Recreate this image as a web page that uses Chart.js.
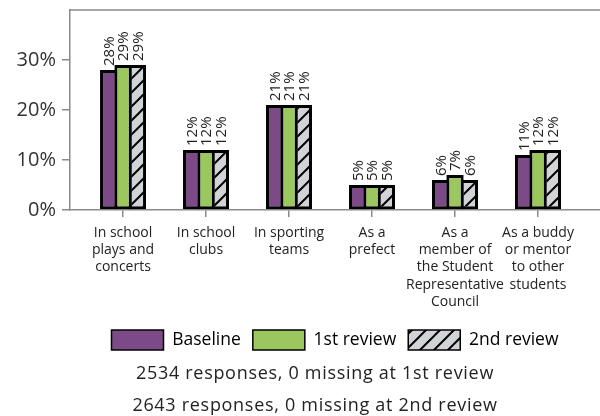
<!DOCTYPE html>
<html>
<head>
<meta charset="utf-8">
<script src="https://cdn.jsdelivr.net/npm/chart.js@4.4.1/dist/chart.umd.min.js"></script>
<style>
  html, body { margin: 0; padding: 0; background: #fff; }
  #wrap { position: relative; width: 600px; height: 416px; }
  #notes { position: absolute; left: 30px; width: 570px; top: 356px; text-align: center;
           font-family: 'Open Sans', sans-serif; font-size: 18px; letter-spacing: 0.7px;
           line-height: 32px; color: #222; }
</style>
</head>
<body>
<div id="wrap">
  <canvas id="myChart" width="600" height="416"></canvas>
  <div id="notes"></div>
</div>
<script>
// chart data
const categories = [
  ['In school', 'plays and', 'concerts'],
  ['In school', 'clubs'],
  ['In sporting', 'teams'],
  ['As a', 'prefect'],
  ['As a', 'member of', 'the Student', 'Representative', 'Council'],
  ['As a buddy', 'or mentor', 'to other', 'students']
];
const seriesNames = ['Baseline', '1st review', '2nd review'];
const baseline = [28, 12, 21, 5, 6, 11];
const review1 = [29, 12, 21, 5, 7, 12];
const review2 = [29, 12, 21, 5, 6, 12];
const yTicks = [0, 10, 20, 30];
const notes = ['2534 responses, 0 missing at 1st review', '2643 responses, 0 missing at 2nd review'];

document.getElementById('notes').innerHTML = notes.join('<br>');

Chart.defaults.font.family = "'Open Sans', sans-serif";
Chart.defaults.color = '#222';

// hatched fill for the 2nd review
function makeHatch() {
  var c = document.createElement('canvas');
  c.width = 14; c.height = 14;
  var g = c.getContext('2d');
  g.fillStyle = '#d2d3d6';
  g.fillRect(0, 0, 14, 14);
  g.strokeStyle = '#000';
  g.lineWidth = 2;
  g.beginPath();
  g.moveTo(-2, 16); g.lineTo(16, -2);
  g.moveTo(-9, 9); g.lineTo(9, -9);
  g.moveTo(5, 23); g.lineTo(23, 5);
  g.stroke();
  return g.createPattern(c, 'repeat');
}
var hatch = makeHatch();

function toPoints(arr) {
  return arr.map(function(v, i) { return {x: i, y: v}; });
}

// labels drawn vertically above each bar
const barLabels = {
  id: 'barLabels',
  afterDatasetsDraw(chart) {
    var ctx = chart.ctx;
    ctx.save();
    ctx.font = "15px 'Open Sans', sans-serif";
    ctx.fillStyle = '#222';
    ctx.textAlign = 'left';
    ctx.textBaseline = 'middle';
    chart.data.datasets.forEach(function(ds, d) {
      chart.getDatasetMeta(d).data.forEach(function(bar, i) {
        ctx.save();
        ctx.translate(bar.x, bar.y - 4);
        ctx.rotate(-Math.PI / 2);
        ctx.fillText(ds.data[i].y + '%', 0, 1);
        ctx.restore();
      });
    });
    ctx.restore();
  }
};

// top frame line
const frame = {
  id: 'frame',
  beforeDatasetsDraw(chart) {
    var a = chart.chartArea, ctx = chart.ctx;
    ctx.save();
    ctx.strokeStyle = '#8a8a8a';
    ctx.lineWidth = 1.5;
    ctx.beginPath();
    ctx.moveTo(a.left, a.top);
    ctx.lineTo(a.right, a.top);
    ctx.stroke();
    ctx.restore();
  }
};

var common = {
  borderColor: '#000',
  borderWidth: 3,
  borderSkipped: false,
  categoryPercentage: 0.518,
  barPercentage: 1.21
};

new Chart(document.getElementById('myChart'), {
  type: 'bar',
  data: {
    datasets: [
      Object.assign({label: seriesNames[0], data: toPoints(baseline), backgroundColor: '#7b4a87'}, common),
      Object.assign({label: seriesNames[1], data: toPoints(review1), backgroundColor: '#9cc75f'}, common),
      Object.assign({label: seriesNames[2], data: toPoints(review2), backgroundColor: hatch}, common)
    ]
  },
  options: {
    responsive: false,
    animation: false,
    layout: { padding: { top: 10, bottom: 56, left: 0, right: 0 } },
    scales: {
      x: {
        type: 'linear',
        offset: false,
        min: -0.639,
        max: 5.747,
        afterBuildTicks: function(s) { s.ticks = categories.map(function(c, i) { return {value: i}; }); },
        afterFit: function(s) { s.height = 108; s.paddingLeft = 0; s.paddingRight = 0; },
        grid: { offset: false, drawOnChartArea: false, drawTicks: true, tickLength: 7, color: '#8a8a8a', lineWidth: 1.5 },
        border: { color: '#8a8a8a', width: 1.5 },
        ticks: {
          maxRotation: 0,
          autoSkip: false,
          padding: 7,
          color: '#222',
          font: { size: 14, lineHeight: 1.24 },
          callback: function(v) { return categories[Math.round(v)] || ''; }
        }
      },
      y: {
        min: 0,
        max: 40,
        afterBuildTicks: function(s) { s.ticks = yTicks.map(function(v) { return {value: v}; }); },
        afterFit: function(s) { s.width = 70; s.paddingTop = 0; s.paddingBottom = 0; },
        grid: { drawOnChartArea: false, drawTicks: true, tickLength: 8, color: '#8a8a8a', lineWidth: 1.5 },
        border: { color: '#8a8a8a', width: 1.5 },
        ticks: {
          padding: 6,
          color: '#333',
          font: { size: 20 },
          callback: function(v) { return v + '%'; }
        }
      }
    },
    plugins: {
      legend: {
        position: 'bottom',
        fullSize: false,
        labels: {
          boxWidth: 52,
          boxHeight: 20,
          padding: 12,
          color: '#222',
          font: { size: 17.5 },
          generateLabels: function(chart) {
            return chart.data.datasets.map(function(ds, i) {
              return {
                text: ds.label,
                fillStyle: ds.backgroundColor,
                strokeStyle: '#000',
                lineWidth: 1.5,
                hidden: false,
                datasetIndex: i
              };
            });
          }
        }
      },
      tooltip: { enabled: false }
    }
  },
  plugins: [barLabels, frame]
});
</script>
</body>
</html>
